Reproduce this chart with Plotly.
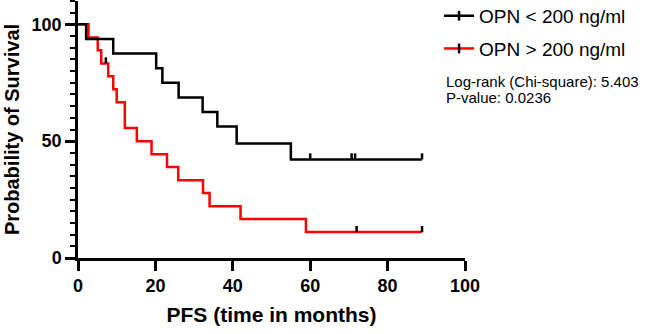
import plotly.graph_objects as go

# ---- data ----
# OPN < 200 ng/ml (black)
low_times = [0, 2.1, 9.1, 20.2, 21.8, 26.0, 32.2, 36.0, 41.0, 55.0, 88.9]
low_surv = [100, 93.75, 87.5, 81.25, 75.0, 68.75, 62.5, 56.25, 49.0, 42.2, 42.2]
low_cens_t = [60.0, 70.7, 71.6, 88.9]
low_cens_s = [42.2, 42.2, 42.2, 42.2]

# OPN > 200 ng/ml (red)
high_times = [0, 2.7, 5.1, 6.0, 7.8, 9.1, 10.0, 12.1, 15.2, 19.0, 23.0, 25.9, 32.3, 34.0, 42.0, 58.9, 88.9]
high_surv = [100, 94.4, 88.9, 83.3, 77.8, 72.2, 66.7, 55.6, 50.0, 44.4, 38.9, 33.3, 27.8, 22.2, 16.7, 11.1, 11.1]
high_cens_t = [7.2, 72.0, 88.9]
high_cens_s = [83.3, 11.1, 11.1]

labels = ["OPN &lt; 200 ng/ml", "OPN &gt; 200 ng/ml"]
stats_text = ["Log-rank (Chi-square): 5.403", "P-value: 0.0236"]

x_ticks = [0, 20, 40, 60, 80, 100]

BLACK = "#000000"
RED = "#ff0000"
FONT = "Arial, Liberation Sans, sans-serif"

fig = go.Figure()

# step curves (red under black)
fig.add_trace(go.Scatter(x=high_times, y=high_surv, mode="lines", line=dict(color=RED, width=2.5, shape="hv"),
                         showlegend=False, hoverinfo="skip"))
fig.add_trace(go.Scatter(x=low_times, y=low_surv, mode="lines", line=dict(color=BLACK, width=2.5, shape="hv"),
                         showlegend=False, hoverinfo="skip"))

# censor ticks (upward)
tick_up = 2.6
for ct, cs in [(low_cens_t, low_cens_s), (high_cens_t, high_cens_s)]:
    fig.add_trace(go.Scatter(x=ct, y=cs, mode="markers", marker=dict(size=0.1, color=BLACK, opacity=0),
                             error_y=dict(type="data", symmetric=False, array=[tick_up] * len(ct),
                                          arrayminus=[0] * len(ct), width=0, thickness=2.5, color=BLACK),
                             showlegend=False, hoverinfo="skip"))

# legend entries
for name, col, grp in [(labels[0], BLACK, "a"), (labels[1], RED, "b")]:
    fig.add_trace(go.Scatter(x=[None], y=[None], mode="lines+markers", name=name, legendgroup=grp,
                             line=dict(color=col, width=2.5),
                             marker=dict(symbol="line-ns", size=7, line=dict(color=BLACK, width=2.5))))

fig.add_annotation(text=stats_text[0], xref="paper", yref="paper", x=0.945, y=0.685, xanchor="left",
                   yanchor="middle", showarrow=False, font=dict(family=FONT, size=15, color=BLACK))
fig.add_annotation(text=stats_text[1], xref="paper", yref="paper", x=0.945, y=0.623, xanchor="left",
                   yanchor="middle", showarrow=False, font=dict(family=FONT, size=15, color=BLACK))

fig.update_layout(
    width=647, height=334,
    margin=dict(l=78, r=182, t=1, b=76, autoexpand=False),
    paper_bgcolor="white", plot_bgcolor="white",
    font=dict(family=FONT, color=BLACK),
    legend=dict(x=0.933, y=1.016, xanchor="left", yanchor="top",
                traceorder="grouped", tracegroupgap=5, itemwidth=30,
                font=dict(family=FONT, size=19, color=BLACK), bgcolor="rgba(0,0,0,0)"),
    xaxis=dict(range=[0, 100], tickvals=x_ticks, ticks="outside", ticklen=10, tickwidth=2.5, tickcolor=BLACK,
               showline=True, linewidth=2.5, linecolor=BLACK, showgrid=False, zeroline=False, automargin=False,
               tickfont=dict(family=FONT, size=18, color=BLACK, weight="bold"),
               title=dict(text="PFS (time in months)", standoff=12,
                          font=dict(family=FONT, size=21, color=BLACK, weight="bold"))),
    yaxis=dict(range=[0, 110], tickmode="linear", tick0=0, dtick=50, ticks="outside", ticklen=10, tickwidth=2.5,
               tickcolor=BLACK, showline=True, linewidth=2.5, linecolor=BLACK, showgrid=False, zeroline=False,
               automargin=False,
               minor=dict(dtick=5, ticks="outside", ticklen=5, tickwidth=2, tickcolor=BLACK, showgrid=False),
               tickfont=dict(family=FONT, size=18, color=BLACK, weight="bold"),
               title=dict(text="Probability of Survival", standoff=7,
                          font=dict(family=FONT, size=20, color=BLACK, weight="bold"))),
)

fig.write_html("out.html", config={"displayModeBar": False},
               post_script="document.body.style.margin='0';")
